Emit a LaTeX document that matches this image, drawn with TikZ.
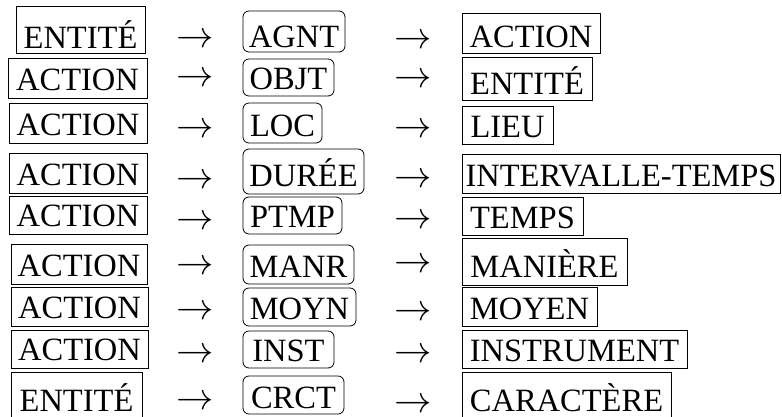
\documentclass[tikz,border=0pt]{standalone}
\usepackage{fontspec}
\setmainfont{Liberation Serif}
% #1 name, #2 style, #3 left, #4 right, #5 top, #6 bottom, #7 baseline, #8 text
\newcommand\entrybox[8]{%
  \pgfmathsetmacro\ebcx{(#3+#4)/2}%
  \pgfmathsetmacro\ebcy{(#5+#6)/2}%
  \pgfmathsetmacro\ebw{#4-#3}%
  \pgfmathsetmacro\ebh{#6-#5}%
  \pgfmathsetmacro\ebth{2*(#7-(#5+#6)/2)}%
  \node[#2, minimum width=\ebw pt, minimum height=\ebh pt, text height=\ebth pt, text depth=0pt] (#1) at (\ebcx,\ebcy) {#8};%
}
\tikzset{
  concept/.style={draw=black, line width=0.8pt, inner sep=0pt, outer sep=0pt,
    font=\fontsize{32.5}{38}\selectfont},
  relation/.style={concept, rounded corners=6pt},
  arrowsym/.style={inner sep=0pt, outer sep=0pt, scale=1.5, yshift=-2.5pt,
    font=\fontsize{24.88}{30}\selectfont}
}
\begin{document}
\begin{tikzpicture}[x=1pt, y=-1pt]
\clip (0,0) rectangle (782,416);
\fill[white] (0,0) rectangle (782,416);
% left column
\entrybox{a1}{concept}{16}{145}{6}{53}{48}{ENTITÉ}
\entrybox{a2}{concept}{8}{147}{58}{98}{90.5}{ACTION}
\entrybox{a3}{concept}{9}{147}{103}{143}{135.5}{ACTION}
\entrybox{a4}{concept}{9}{147}{153}{193}{185.5}{ACTION}
\entrybox{a5}{concept}{9}{147}{196}{234}{226.5}{ACTION}
\entrybox{a6}{concept}{11}{147}{244}{284}{276.5}{ACTION}
\entrybox{a7}{concept}{11}{148}{287}{326}{318.5}{ACTION}
\entrybox{a8}{concept}{11}{148}{330}{368}{360.5}{ACTION}
\entrybox{a9}{concept}{11}{142}{372}{417.5}{411}{ENTITÉ}
% middle column
\entrybox{b1}{relation}{243}{345}{11}{52}{47}{AGNT}
\entrybox{b2}{relation}{243}{334}{59}{96}{89}{OBJT}
\entrybox{b3}{relation}{243}{322}{103}{143}{136}{LOC}
\entrybox{b4}{relation}{243}{364}{149}{194}{186}{DURÉE}
\entrybox{b5}{relation}{243}{342}{197}{234}{227}{PTMP}
\entrybox{b6}{relation}{243}{354}{245}{284}{277}{MANR}
\entrybox{b7}{relation}{243}{356}{288}{326}{319}{MOYN}
\entrybox{b8}{relation}{243}{334}{331}{368}{361}{INST}
\entrybox{b9}{relation}{243}{344}{376}{414}{408}{CRCT}
% right column
\entrybox{c1}{concept}{462}{600}{13}{53}{47}{ACTION}
\entrybox{c2}{concept}{462}{592}{57}{100}{94}{ENTITÉ}
\entrybox{c3}{concept}{462}{553}{106}{144}{137}{LIEU}
\entrybox{c4}{concept}{462}{780}{154}{193}{186}{INTERVALLE-TEMPS}
\entrybox{c5}{concept}{462}{583}{197}{235}{228}{TEMPS}
\entrybox{c6}{concept}{462}{627}{238}{285}{277}{MANIÈRE}
\entrybox{c7}{concept}{462}{597}{287}{326}{319}{MOYEN}
\entrybox{c8}{concept}{462}{687}{330}{368}{361}{INSTRUMENT}
\entrybox{c9}{concept}{462}{671}{372}{417.5}{411}{CARACTÈRE}
% arrows
\node[arrowsym] (p1) at (195,37) {$\rightarrow$};
\node[arrowsym] (p2) at (195,76) {$\rightarrow$};
\node[arrowsym] (p3) at (195,127) {$\rightarrow$};
\node[arrowsym] (p4) at (195,178) {$\rightarrow$};
\node[arrowsym] (p5) at (195,219) {$\rightarrow$};
\node[arrowsym] (p6) at (195,264) {$\rightarrow$};
\node[arrowsym] (p7) at (195,309) {$\rightarrow$};
\node[arrowsym] (p8) at (195,352) {$\rightarrow$};
\node[arrowsym] (p9) at (195,399) {$\rightarrow$};
\node[arrowsym] (q1) at (413,38) {$\rightarrow$};
\node[arrowsym] (q2) at (413,77) {$\rightarrow$};
\node[arrowsym] (q3) at (413,127) {$\rightarrow$};
\node[arrowsym] (q4) at (413,177) {$\rightarrow$};
\node[arrowsym] (q5) at (413,218) {$\rightarrow$};
\node[arrowsym] (q6) at (413,262) {$\rightarrow$};
\node[arrowsym] (q7) at (413,310) {$\rightarrow$};
\node[arrowsym] (q8) at (413,352) {$\rightarrow$};
\node[arrowsym] (q9) at (413,402) {$\rightarrow$};
\end{tikzpicture}
\end{document}
